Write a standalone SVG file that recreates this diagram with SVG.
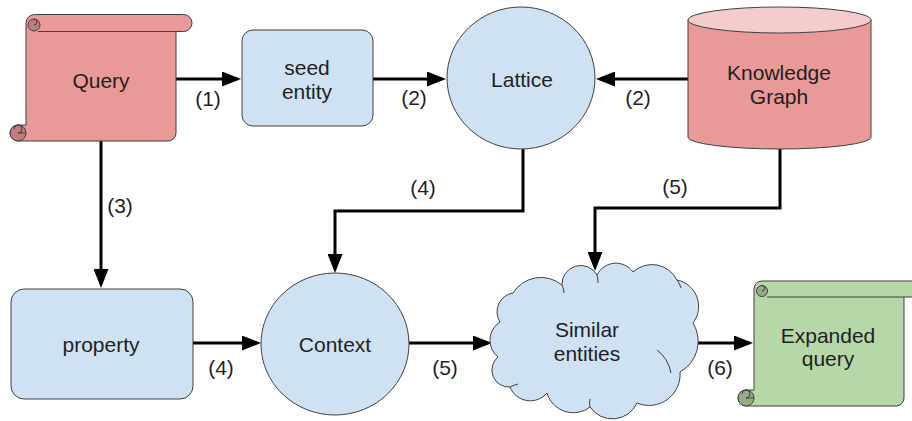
<svg xmlns="http://www.w3.org/2000/svg" width="912" height="421" viewBox="0 0 912 421">
<style>
.lbl{font-family:"Liberation Sans",Arial,sans-serif;font-size:21px;fill:#1f1f1f;text-anchor:middle}
.blue{fill:#cfe2f3;stroke:#404040;stroke-width:1}
.pink{fill:#ea9999;stroke:#404040;stroke-width:1}
.pinkd{fill:#c27b7b;stroke:#404040;stroke-width:1}
.green{fill:#b6d7a8;stroke:#404040;stroke-width:1}
.greend{fill:#93ae86;stroke:#404040;stroke-width:1}
.ln{fill:none;stroke:#404040;stroke-width:1}
.conn{fill:none;stroke:#000;stroke-width:3}
</style>
<defs>
<marker id="ah" viewBox="0 0 19 15" refX="15" refY="7.5" markerWidth="19" markerHeight="15" markerUnits="userSpaceOnUse" orient="auto">
<path d="M0,0 L19,7.5 L0,15 z" fill="#000"/>
</marker>
</defs>
<rect width="912" height="421" fill="#fff"/>

<g id="connectors">
<path class="conn" marker-end="url(#ah)" d="M176,79 H237"/>
<path class="conn" marker-end="url(#ah)" d="M373,79 H442"/>
<path class="conn" marker-end="url(#ah)" d="M688,79 H600"/>
<path class="conn" marker-end="url(#ah)" d="M101,141 V284"/>
<path class="conn" marker-end="url(#ah)" d="M523,149 V211 H335 V269"/>
<path class="conn" marker-end="url(#ah)" d="M193,343 H257"/>
<path class="conn" marker-end="url(#ah)" d="M780,149 V208 H595 V267"/>
<path class="conn" marker-end="url(#ah)" d="M409,343 H488"/>
<path class="conn" marker-end="url(#ah)" d="M698,343 H749"/>
<text class="lbl" x="208" y="106">(1)</text>
<text class="lbl" x="414" y="105">(2)</text>
<text class="lbl" x="638" y="105">(2)</text>
<text class="lbl" x="120" y="213">(3)</text>
<text class="lbl" x="423" y="195">(4)</text>
<text class="lbl" x="675" y="194">(5)</text>
<text class="lbl" x="221" y="375">(4)</text>
<text class="lbl" x="445" y="375">(5)</text>
<text class="lbl" x="720" y="375">(6)</text>
</g>

<g id="query">
<path class="pink" d="M26,125 L26,23 A8.5,8.5 0 0 1 34.5,14.5 L183.5,14.5 A8.5,8.5 0 0 1 183.5,31.5 L176,31.5 L176,133 A8,8 0 0 1 168,141 L18,141 A8,8 0 0 1 18,125 Z"/>
<path class="ln" d="M38,31.5 H176"/>
<circle class="pinkd" cx="34" cy="25" r="6"/>
<path class="ln" d="M34,19 A3,3 0 0 1 34,25"/>
<circle class="pinkd" cx="18" cy="133" r="8"/>
<path class="ln" d="M14,129 A4,4 0 1 1 18,133 L26,133"/>
<text class="lbl" x="101" y="88">Query</text>
</g>

<g id="seed-entity">
<rect class="blue" x="242" y="30" width="131" height="96" rx="11"/>
<text class="lbl" x="307" y="75">seed</text>
<text class="lbl" x="307" y="99">entity</text>
</g>

<g id="lattice">
<ellipse class="blue" cx="521" cy="78" rx="74" ry="71"/>
<text class="lbl" x="522" y="87">Lattice</text>
</g>

<g id="knowledge-graph">
<path class="pink" d="M688,20 V137 A91.5,12 0 0 0 871,137 V20 Z"/>
<ellipse cx="779.5" cy="20" rx="91.5" ry="13" fill="#f4cccc" stroke="#404040" stroke-width="1"/>
<text class="lbl" x="779" y="80">Knowledge</text>
<text class="lbl" x="779" y="104">Graph</text>
</g>

<g id="property">
<rect class="blue" x="11" y="289" width="182" height="110" rx="13"/>
<text class="lbl" x="101" y="352">property</text>
</g>

<g id="context">
<ellipse class="blue" cx="335" cy="344" rx="74" ry="71"/>
<text class="lbl" x="335" y="352">Context</text>
</g>

<g id="similar-entities">
<path class="blue" d="M513,293 A33,33 0 0 1 562,285 A18.7,18.7 0 0 1 597,275 A21,21 0 0 1 633,272 A28,28 0 0 1 677,280 A27,27 0 0 1 693,323 A35,35 0 0 1 680,372 A31,31 0 0 1 637,403 A27,27 0 0 1 590,407 A27.4,27.4 0 0 1 547,393 A21.8,21.8 0 0 1 510,387 A17,17 0 0 1 498,357 A21.5,21.5 0 0 1 500,322 A19,19 0 0 1 513,293 Z"/>
<path class="ln" d="M562,285 Q564,289 564,293 M597,275 Q598,279 598,283 M677,280 Q680,284 681,288 M657,350 Q668,358 671,373 M590,407 Q589,403 590,399 M510,387 Q514,385 518,384"/>
<text class="lbl" x="587" y="337">Similar</text>
<text class="lbl" x="587" y="361">entities</text>
</g>

<g id="expanded-query">
<path class="green" d="M754,390 L754,289 A8,8 0 0 1 762,281 L920,281 L920,297 L904,297 L904,398 A8,8 0 0 1 896,406 L746,406 A8,8 0 0 1 746,390 Z"/>
<path class="ln" d="M767,297 H904"/>
<circle class="greend" cx="762" cy="291" r="5.5"/>
<path class="ln" d="M762,285.5 A2.75,2.75 0 0 1 762,291"/>
<circle class="greend" cx="746" cy="398" r="8"/>
<path class="ln" d="M742,394 A4,4 0 1 1 746,398 L754,398"/>
<text class="lbl" x="828" y="343">Expanded</text>
<text class="lbl" x="828" y="366">query</text>
</g>
</svg>
